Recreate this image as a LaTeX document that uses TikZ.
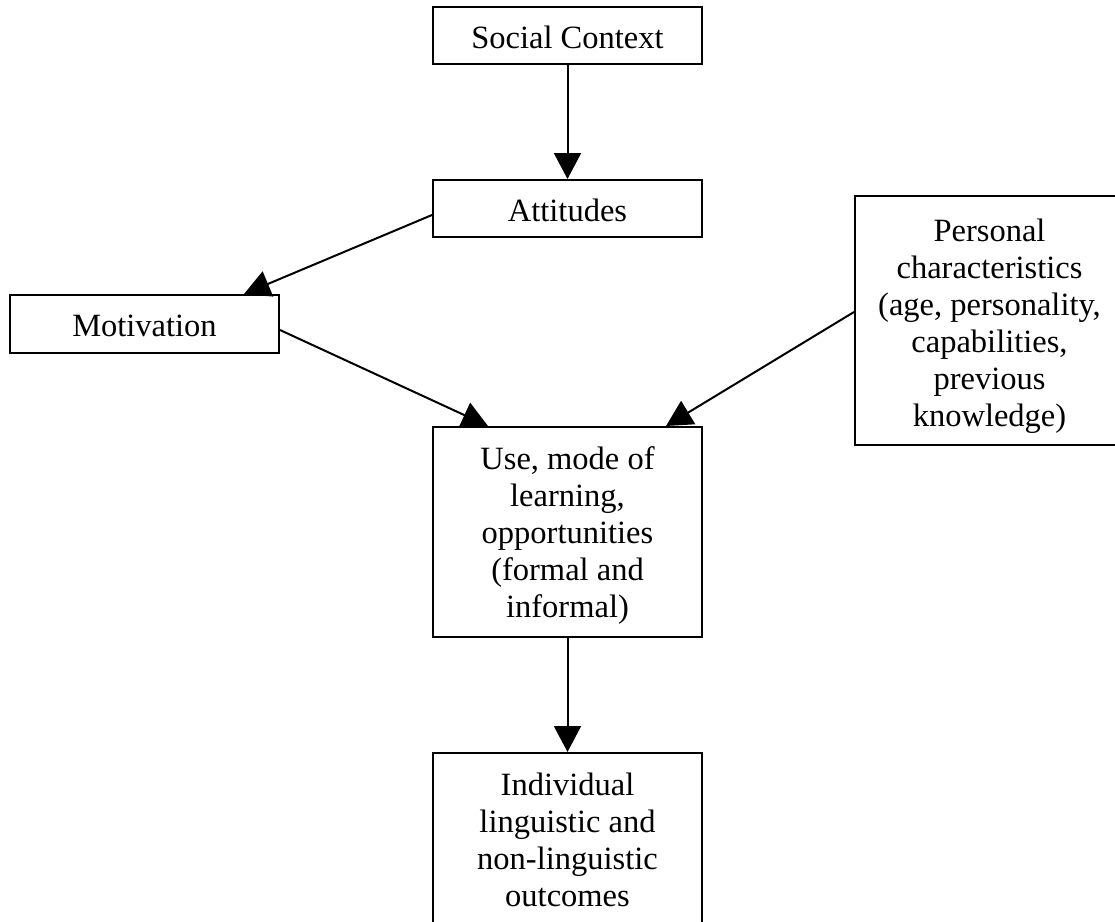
\documentclass[tikz,border=0pt]{standalone}
\usepackage{fontspec}
\setmainfont{Liberation Serif}
\usetikzlibrary{arrows.meta}
\newcommand{\boxtext}[2][2pt]{\raisebox{-#1}[\height][\depth]{\begin{tabular}{@{}c@{}}#2\end{tabular}}}
\tikzset{
  box/.style={draw, line width=1pt, inner sep=0pt,
    font=\fontsize{16.25pt}{18.5pt}\selectfont},
  conn/.style={line width=1pt, -{Triangle[length=13pt,width=13.5pt]}},
}
\begin{document}
\begin{tikzpicture}[x=0.5pt,y=-0.5pt]
\useasboundingbox (0,0) rectangle (1115,922);
\node[box, minimum width=134.5pt, minimum height=28.5pt] (sc) at (567.5,35.5) {\boxtext[3pt]{Social Context}};
\node[box, minimum width=134.5pt, minimum height=28.5pt] (att) at (567.5,208.5) {\boxtext[3pt]{Attitudes}};
\node[box, minimum width=134.5pt, minimum height=29pt] (mot) at (144.5,324) {\boxtext[2.5pt]{Motivation}};
\node[box, minimum width=134.5pt, minimum height=124.5pt] (pers) at (989.5,320.5)
  {\boxtext[3pt]{Personal\\characteristics\\(age, personality,\\capabilities,\\previous\\knowledge)}};
\node[box, minimum width=134.5pt, minimum height=105pt] (use) at (567.5,532)
  {\boxtext[2pt]{Use, mode of\\learning,\\opportunities\\(formal and\\informal)}};
\node[box, minimum width=134.5pt, minimum height=87pt] (ind) at (567.5,840)
  {\boxtext[2pt]{Individual\\linguistic and\\non-linguistic\\outcomes}};
\draw[conn] (sc.south) -- (att.north);
\draw[conn] ([yshift=-3.25pt]att.west) -- ([xshift=-18pt]mot.north east);
\draw[conn] ([yshift=-3pt]mot.east) -- ([xshift=28pt]use.north west);
\draw[conn] ([yshift=4.25pt]pers.west) -- ([xshift=-18.5pt]use.north east);
\draw[conn] (use.south) -- (ind.north);
\end{tikzpicture}
\end{document}
